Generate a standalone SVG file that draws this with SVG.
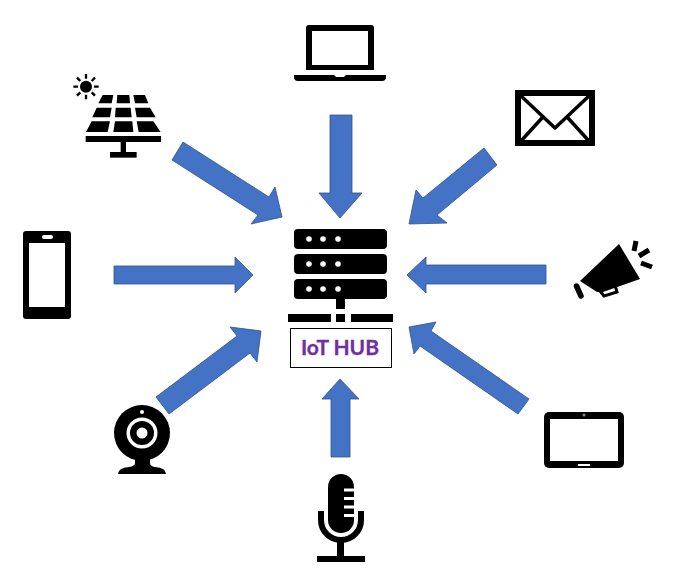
<svg xmlns="http://www.w3.org/2000/svg" width="696" height="583" viewBox="0 0 696 583">
<style>
.a{fill:#4472c4;stroke:#2f528f;stroke-width:.8}
.k{fill:#000}
.w{fill:#fff}
.l{stroke:#000;fill:none}
text{font-family:"Lato","Open Sans",sans-serif;font-weight:700;font-size:21px;fill:#7030a0;text-anchor:middle;stroke:#7030a0;stroke-width:.3}
</style>
<rect width="696" height="583" fill="#fff"/>
<g id="connectors">
<polygon class="a" points="183,142 269,197 275,187 282,217 251,224 258,215 172,160"/>
<polygon class="a" points="330,115 352,115 352,193 362,193 340,218 319,193 330,193"/>
<polygon class="a" points="484,148 497,165 437,215 447,223 409,224 416,190 423,198"/>
<polygon class="a" points="546,265 546,284 426,284 426,293 407,275 426,257 426,265"/>
<polygon class="a" points="114,266 235,266 235,257 253,275 235,293 235,284 114,284"/>
<polygon class="a" points="156,397 237,336 230,327 261,331 257,362 250,353 169,414"/>
<polygon class="a" points="331,457 331,399 322,399 340,379 359,399 350,399 350,457"/>
<polygon class="a" points="529,399 518,414 420,346 414,354 409,327 436,322 431,331"/>
</g>
<g id="hub">
<rect class="k" x="294" y="229" width="93" height="20" rx="4"/>
<rect class="k" x="294" y="254" width="93" height="20" rx="4"/>
<rect class="k" x="294" y="279" width="93" height="20" rx="4"/>
<g class="w">
<circle cx="309" cy="239" r="2.8"/><circle cx="323" cy="239" r="2.8"/><circle cx="338" cy="239" r="2.8"/>
<circle cx="309" cy="264" r="2.8"/><circle cx="323" cy="264" r="2.8"/><circle cx="338" cy="264" r="2.8"/>
<circle cx="309" cy="289" r="2.8"/><circle cx="323" cy="289" r="2.8"/><circle cx="338" cy="289" r="2.8"/>
</g>
<rect class="k" x="336" y="299" width="9" height="10"/>
<rect class="k" x="288" y="314" width="43" height="8"/>
<rect class="k" x="336" y="314" width="9" height="8"/>
<rect class="k" x="351" y="314" width="42" height="8"/>
<rect x="290.5" y="328.5" width="101" height="39" fill="#fff" stroke="#000"/>
<text x="340" y="355">IoT HUB</text>
</g>
<g id="laptop">
<path class="k" fill-rule="evenodd" d="M309 25H371Q374 25 374 28V70H306V28Q306 25 309 25ZM312 31V65H368V31Z"/>
<path class="k" d="M294 75H334L336 77H344L346 75H386V77Q386 81 382 81H298Q294 81 294 77Z"/>
</g>
<g id="envelope">
<rect x="518" y="93" width="74" height="50" fill="#fff" stroke="#000" stroke-width="6"/>
<path class="l" stroke-width="3.500" stroke-linejoin="round" d="M520 95L555 128L590 95M542 118L521 141M568 118L589 141"/>
</g>
<g id="solar" transform="translate(60 60) scale(.3333)">
<circle class="k" cx="78" cy="80" r="18"/>
<path class="l" stroke-width="7" d="M78 42V56M78 104V118M40 80H54M102 80H116M51 53L61 63M95 97L105 107M51 107L61 97M95 63L105 53"/>
<path class="k" d="M128 105H160L155 130H115ZM172 105H208L210 130H170ZM220 105H255L265 130H225ZM110 143H155L150 172H97ZM167 143H212L215 172H165ZM225 143H270L287 172H230ZM95 184H150L143 216H78ZM165 184H217L220 216H160ZM230 184H280L302 216H236Z"/>
<rect class="k" x="77" y="228" width="226" height="18"/>
<rect class="k" x="182" y="246" width="16" height="32"/>
<rect class="k" x="150" y="276" width="80" height="17"/>
</g>
<g id="phone">
<path class="k" fill-rule="evenodd" d="M26 231H68Q71 231 71 234V316Q71 319 68 319H26Q23 319 23 316V234Q23 231 26 231ZM29 243V307H65V243Z"/>
<rect class="w" x="42" y="235" width="11" height="4" rx="2"/>
</g>
<g id="megaphone">
<path class="k" d="M619 244L640 279L603 292L597 292L580 281Z"/>
<path fill="none" stroke="#000" stroke-width="3" d="M600 291L604 296L617 292L615 285"/>
<path class="l" stroke-width="5.500" stroke-linecap="round" d="M576.500 286L581 296"/>
<path class="l" stroke-width="5" d="M636 241L634 251M649 250L639 256M652 267L641 263"/>
</g>
<g id="webcam">
<circle class="k" cx="142" cy="433" r="28"/>
<circle class="w" cx="142" cy="433" r="15.500"/>
<circle class="k" cx="142" cy="433" r="12"/>
<circle class="w" cx="142" cy="433" r="5.500"/>
<circle class="w" cx="142" cy="412" r="2"/>
<path class="k" d="M135 458H150V463Q150 466 155 467Q166 468 166 474H118Q118 468 129 467Q135 466 135 463Z"/>
</g>
<g id="tablet">
<rect class="k" x="544" y="412" width="80" height="56" rx="5"/>
<rect class="w" x="550" y="419" width="68" height="42"/>
<circle cx="584" cy="415" r="1.500" fill="#888"/>
<rect class="w" x="578" y="464" width="12" height="2"/>
</g>
<g id="mic">
<path class="k" d="M328 487A13 13 0 0 1 354 487V520A13 13 0 0 1 328 520Z"/>
<g class="w"><rect x="344" y="488.500" width="11" height="3"/><rect x="344" y="497" width="11" height="3"/><rect x="344" y="505.500" width="11" height="3"/><rect x="344" y="514" width="11" height="3"/></g>
<path class="l" stroke-width="6" d="M321 511V520A20 20 0 0 0 361 520V511"/>
<rect class="k" x="337" y="541" width="7" height="16"/>
<rect class="k" x="317" y="556" width="48" height="6"/>
</g>
</svg>
